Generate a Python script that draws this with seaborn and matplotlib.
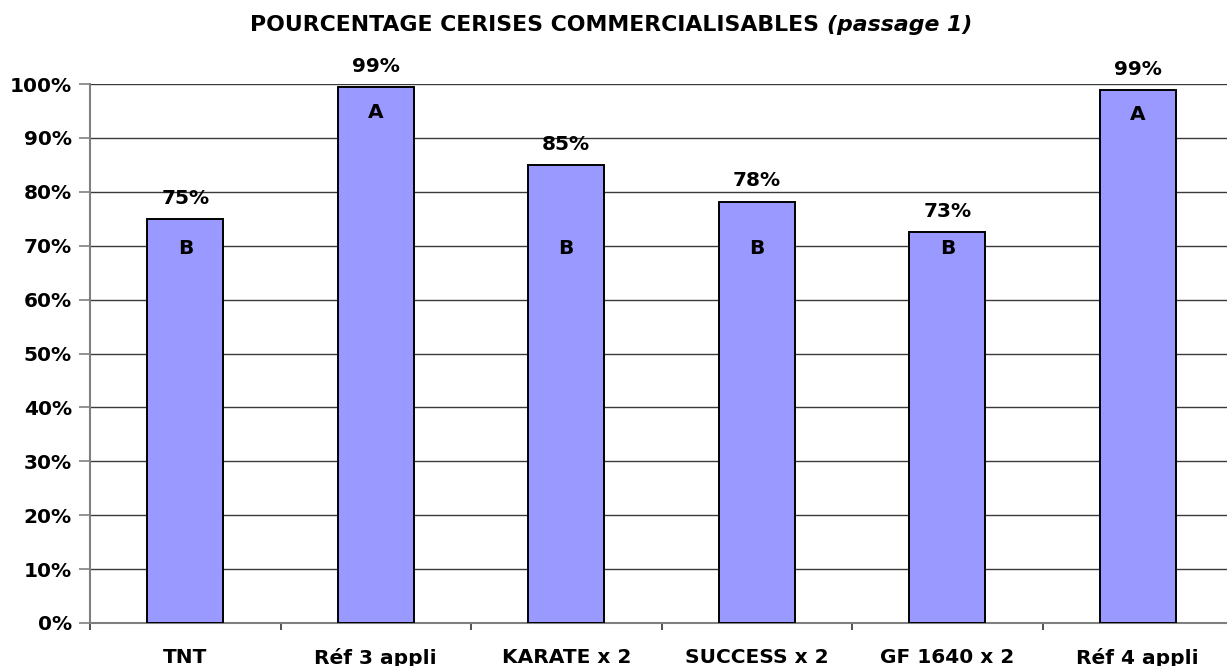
import numpy as np
import pandas as pd
import matplotlib
matplotlib.use("Agg")
import matplotlib.pyplot as plt
import seaborn as sns
from matplotlib.ticker import MultipleLocator, FixedLocator, PercentFormatter

# data
categories = ["TNT", "Réf 3 appli", "KARATE x 2", "SUCCESS x 2", "GF 1640 x 2", "Réf 4 appli"]
values = [75.0, 99.4, 85.0, 78.2, 72.5, 98.9]
value_labels = ["75%", "99%", "85%", "78%", "73%", "99%"]
groups = ["B", "A", "B", "B", "B", "A"]

df = pd.DataFrame({"modalite": categories, "pct": values})

sns.set_style("white")
plt.rcParams["font.family"] = ["DejaVu Sans"]
plt.rcParams["font.weight"] = "bold"
plt.rcParams["text.color"] = "black"
plt.rcParams["xtick.color"] = "black"
plt.rcParams["ytick.color"] = "black"

fig = plt.figure(figsize=(12.27, 6.66), dpi=100)
ax = fig.add_axes([90 / 1227, 43 / 666, 1143 / 1227, 539 / 666])

sns.barplot(data=df, x="modalite", y="pct", color="#9999FF", width=0.4,
            edgecolor="black", linewidth=1.4, saturation=1, ax=ax, zorder=3)

ax.set_ylim(0, 100)
ax.set_xlim(-0.5, len(categories) - 0.5)
ax.yaxis.set_major_locator(MultipleLocator(10))
ax.yaxis.set_major_formatter(PercentFormatter(decimals=0))
ax.grid(axis="y", color="#3a3a3a", linewidth=1.0, zorder=0)
ax.set_axisbelow(True)

for s in ["top", "right"]:
    ax.spines[s].set_visible(False)
for s in ["left", "bottom"]:
    ax.spines[s].set_color("#808080")
    ax.spines[s].set_linewidth(1.5)

ax.tick_params(axis="y", which="major", length=8, width=1.2, color="#808080",
               labelsize=14.5, labelcolor="black", pad=5, direction="out", left=True)
ax.tick_params(axis="x", which="major", length=0, labelsize=14.5, labelcolor="black", pad=18)
ax.xaxis.set_minor_locator(FixedLocator(np.arange(-0.5, len(categories) - 0.5, 1)))
ax.tick_params(axis="x", which="minor", length=5, width=1.2, color="#333333",
               direction="out", bottom=True)
ax.set_xlabel("")
ax.set_ylabel("")
for lab in ax.get_xticklabels() + ax.get_yticklabels():
    lab.set_fontweight("bold")

# value labels above bars, group letters inside
for i, (v, lab, g) in enumerate(zip(values, value_labels, groups)):
    ax.annotate(lab, (i, v), xytext=(0, 8), textcoords="offset points",
                ha="center", va="bottom", fontsize=14.5, fontweight="bold", color="black")
    gy = v - 4.6 if g == "A" else 69.5
    ax.text(i, gy, g, ha="center", va="center", fontsize=14.5, fontweight="bold",
            color="black", zorder=5)

# title in two parts (bold + bold italic)
t1 = fig.text(250 / 1227, 1 - 31 / 666, "POURCENTAGE CERISES COMMERCIALISABLES ",
              ha="left", va="baseline", fontsize=15.8, fontweight="bold", color="black")
fig.canvas.draw()
ax.annotate("(passage 1)", xy=(1, 0), xycoords=t1, ha="left", va="bottom",
            fontsize=15.8, fontweight="bold", fontstyle="italic", color="black")

fig.savefig("out.png", dpi=100)
